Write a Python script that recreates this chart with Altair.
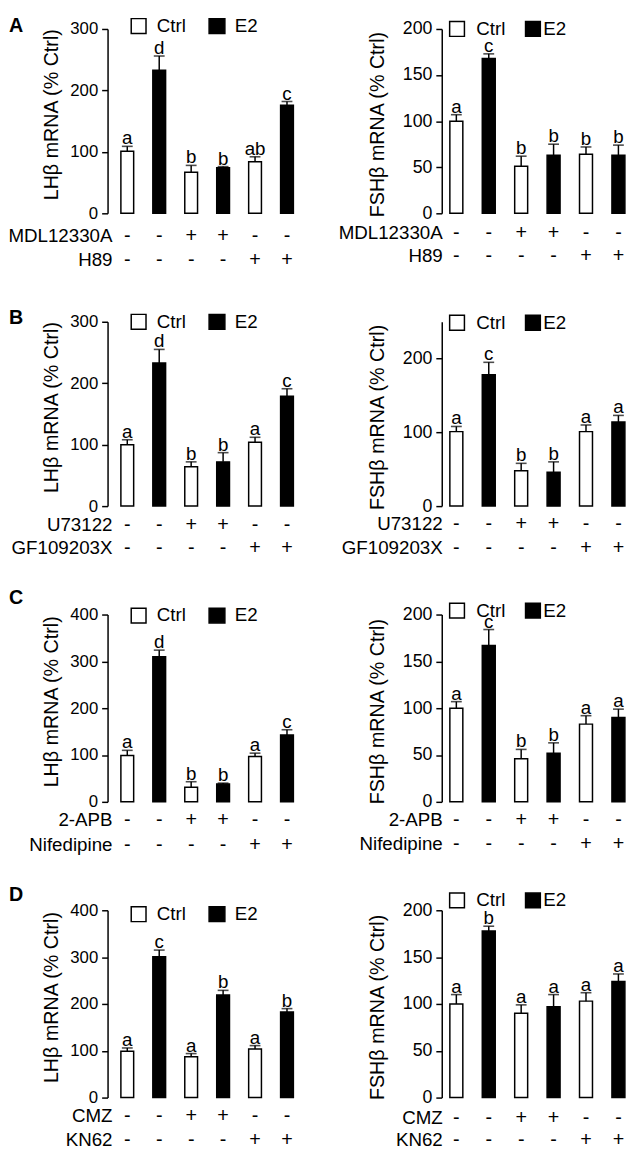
import altair as alt
import pandas as pd

cats = ["1", "2", "3", "4", "5", "6"]
groups = ["Ctrl", "E2", "Ctrl", "E2", "Ctrl", "E2"]
legend_labels = ["Ctrl", "E2"]
drug1_signs = ["-", "-", "+", "+", "-", "-"]
drug2_signs = ["-", "-", "-", "-", "+", "+"]
panel_letters = ["A", "B", "C", "D"]

# Row A
a_lh_mean = [101, 233, 67, 74, 84, 176]
a_lh_se = [8, 23, 11, 2, 8, 6]
a_lh_sig = ["a", "d", "b", "b", "ab", "c"]
a_fsh_mean = [100, 168, 51, 63, 64, 63]
a_fsh_se = [7, 5, 11, 12, 8, 11]
a_fsh_sig = ["a", "c", "b", "b", "b", "b"]
a_drugs = ["MDL12330A", "H89"]

# Row B
b_lh_mean = [100, 233, 64, 72, 104, 179]
b_lh_se = [8, 22, 8, 15, 8, 12]
b_lh_sig = ["a", "d", "b", "b", "a", "c"]
b_fsh_mean = [101, 178, 48, 46, 101, 114]
b_fsh_se = [7, 17, 10, 14, 9, 9]
b_fsh_sig = ["a", "c", "b", "b", "a", "a"]
b_drugs = ["U73122", "GF109203X"]

# Row C
c_lh_mean = [99, 310, 31, 38, 97, 143]
c_lh_se = [11, 14, 12, 2, 7, 11]
c_lh_sig = ["a", "d", "b", "b", "a", "c"]
c_fsh_mean = [100, 167, 46, 52, 83, 90]
c_fsh_se = [7, 17, 10, 11, 9, 9]
c_fsh_sig = ["a", "c", "b", "b", "a", "a"]
c_drugs = ["2-APB", "Nifedipine"]

# Row D
d_lh_mean = [99, 301, 87, 219, 104, 183]
d_lh_se = [7, 14, 7, 10, 7, 7]
d_lh_sig = ["a", "c", "a", "b", "a", "b"]
d_fsh_mean = [100, 178, 90, 97, 103, 124]
d_fsh_se = [10, 5, 9, 13, 9, 8]
d_fsh_sig = ["a", "b", "a", "a", "a", "a"]
d_drugs = ["CMZ", "KN62"]

LH_TITLE = "LHβ mRNA (% Ctrl)"
FSH_TITLE = "FSHβ mRNA (% Ctrl)"

SANS = "Liberation Sans"


def one(text):
    return alt.Chart(pd.DataFrame({"t": [text]}))


def panel(mean, se, sig, drugs, ytitle, ymax, ystep, col, height,
          legend_dy, row_dy, letter=None, letter_dy=0):
    df = pd.DataFrame({"cat": cats, "group": groups, "mean": mean, "se": se,
                       "sig": sig, "s1": drug1_signs, "s2": drug2_signs})
    df["top"] = df["mean"] + df["se"]
    if col == "left":
        width, po, tx, lab_fs, rlab_x, ty_shift = 202, 0.417, -51, 17, 5, -7
        lg = (24, 39, 50, 103, 119, 129)
    else:
        width, po, tx, lab_fs, rlab_x, ty_shift = 194, 0.25, -59, 18, 1, 3
        lg = (8, 23, 35, 85, 100, 103)

    xenc = alt.X("cat:N", axis=None,
                 scale=alt.Scale(paddingInner=0.6, paddingOuter=po))
    ysc = alt.Scale(domain=[0, ymax], nice=False, zero=True)
    yaxis = alt.Axis(
        values=list(range(0, ymax + 1, ystep)), title=ytitle,
        titleX=tx, titleY=height / 2 + ty_shift, titleAngle=-90,
        titleBaseline="alphabetic", titleAlign="center",
        titleFont=SANS, titleFontSize=20, titleFontWeight="normal",
        titleColor="black", labelFont=SANS, labelFontSize=lab_fs,
        labelColor="black", labelPadding=4, tickSize=6, tickWidth=1.5,
        tickColor="black", domainColor="black", domainWidth=1.5, grid=False)

    base = alt.Chart(df)
    bars = base.mark_bar(stroke="black", strokeWidth=1.5).encode(
        x=xenc,
        y=alt.Y("mean:Q", scale=ysc, axis=yaxis, title=ytitle),
        color=alt.Color("group:N", legend=None,
                        scale=alt.Scale(domain=legend_labels,
                                        range=["white", "black"])))
    err = base.mark_rule(strokeWidth=1.5, color="black").encode(
        x=xenc, y=alt.Y("mean:Q", scale=ysc, title=ytitle), y2="top:Q")
    cap = base.mark_tick(color="black", thickness=1.6, size=11).encode(
        x=xenc, y=alt.Y("top:Q", scale=ysc, title=ytitle))
    sigt = base.mark_text(font=SANS, fontSize=19, baseline="alphabetic",
                          dy=-2, color="black").encode(
        x=xenc, y=alt.Y("top:Q", scale=ysc, title=ytitle), text="sig:N")
    sign1 = base.mark_text(font=SANS, fontSize=20, baseline="middle",
                           color="black").encode(
        x=xenc, y=alt.value(height + row_dy[0]), text="s1:N")
    sign2 = base.mark_text(font=SANS, fontSize=20, baseline="middle",
                           color="black").encode(
        x=xenc, y=alt.value(height + row_dy[1]), text="s2:N")
    lab1 = one(drugs[0]).mark_text(font=SANS, fontSize=19, align="right",
                                   baseline="middle", color="black").encode(
        x=alt.value(rlab_x), y=alt.value(height + row_dy[0]), text="t:N")
    lab2 = one(drugs[1]).mark_text(font=SANS, fontSize=19, align="right",
                                   baseline="middle", color="black").encode(
        x=alt.value(rlab_x), y=alt.value(height + row_dy[1]), text="t:N")

    ly = legend_dy
    sq1 = one(legend_labels[0]).mark_rect(fill="white", stroke="black",
                                          strokeWidth=1.5).encode(
        x=alt.value(lg[0]), x2=alt.value(lg[1]),
        y=alt.value(ly - 7.5), y2=alt.value(ly + 7.5))
    sq2 = one(legend_labels[1]).mark_rect(fill="black", stroke="black",
                                          strokeWidth=1.5).encode(
        x=alt.value(lg[3]), x2=alt.value(lg[4]),
        y=alt.value(ly - 7.5), y2=alt.value(ly + 7.5))
    lt1 = one(legend_labels[0]).mark_text(font=SANS, fontSize=19, align="left",
                                          baseline="middle", color="black").encode(
        x=alt.value(lg[2]), y=alt.value(ly), text="t:N")
    lt2 = one(legend_labels[1]).mark_text(font=SANS, fontSize=19, align="left",
                                          baseline="middle", color="black").encode(
        x=alt.value(lg[5]), y=alt.value(ly), text="t:N")

    layers = [bars, err, cap, sigt, sign1, sign2, lab1, lab2, sq1, sq2, lt1, lt2]
    if letter is not None:
        layers.append(one(letter).mark_text(
            font=SANS, fontSize=20, fontWeight="bold", align="left",
            baseline="middle", color="black").encode(
            x=alt.value(-100), y=alt.value(letter_dy), text="t:N"))
    return alt.layer(*layers).properties(width=width, height=height)


panels = [
    panel(a_lh_mean, a_lh_se, a_lh_sig, a_drugs, LH_TITLE, 300, 50, "left", 187,
          -3, (23, 47), panel_letters[0], -3),
    panel(a_fsh_mean, a_fsh_se, a_fsh_sig, a_drugs, FSH_TITLE, 200, 50, "right", 187,
          0, (20, 43)),
    panel(b_lh_mean, b_lh_se, b_lh_sig, b_drugs, LH_TITLE, 300, 50, "left", 187,
          0, (19, 43), panel_letters[1], -4),
    panel(b_fsh_mean, b_fsh_se, b_fsh_sig, b_drugs, FSH_TITLE, 250, 50, "right", 187,
          1, (18, 43)),
    panel(c_lh_mean, c_lh_se, c_lh_sig, c_drugs, LH_TITLE, 400, 100, "left", 190,
          1, (19, 44), panel_letters[2], -17),
    panel(c_fsh_mean, c_fsh_se, c_fsh_sig, c_drugs, FSH_TITLE, 200, 50, "right", 190,
          -4, (19, 43)),
    panel(d_lh_mean, d_lh_se, d_lh_sig, d_drugs, LH_TITLE, 400, 100, "left", 190,
          4, (19, 43), panel_letters[3], -15),
    panel(d_fsh_mean, d_fsh_se, d_fsh_sig, d_drugs, FSH_TITLE, 200, 50, "right", 190,
          -10, (21, 43)),
]

chart = alt.concat(
    *panels, columns=2, spacing={"row": 110, "column": 137},
    bounds="flush", align="each", padding=0,
).resolve_scale(x="independent", y="independent").configure_view(stroke=None)

chart.save("out.html", embed_options={"renderer": "svg", "actions": False})
